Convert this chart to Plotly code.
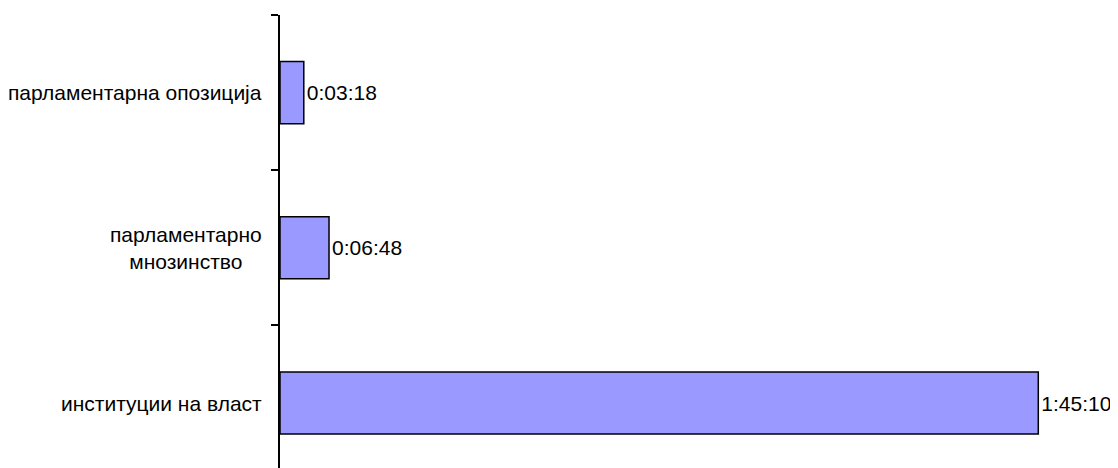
import plotly.graph_objects as go

categories = ["институции на власт", "парламентарно<br>мнозинство", "парламентарна опозиција"]
durations = ["1:45:10", "0:06:48", "0:03:18"]


def to_seconds(s):
    h, m, sec = (int(p) for p in s.split(":"))
    return h * 3600 + m * 60 + sec


seconds = [to_seconds(d) for d in durations]
ypos = list(range(len(categories)))

FONT = "Liberation Sans, Arial, sans-serif"

fig = go.Figure()
fig.add_trace(go.Bar(
    y=ypos, x=seconds, orientation="h",
    width=0.4,
    marker=dict(color="#9999FF", line=dict(color="black", width=1.5)),
    text=durations, textposition="outside", cliponaxis=False,
    textfont=dict(family=FONT, size=21, color="black"),
))

for yv, cat in zip(ypos, categories):
    fig.add_annotation(
        x=0, xref="paper", y=yv, yref="y", text=cat, showarrow=False,
        xanchor="right", yanchor="middle", align="center", xshift=-16,
        font=dict(family=FONT, size=21, color="black"),
    )

fig.update_layout(
    width=1118, height=468,
    margin=dict(l=272, r=18, t=7, b=0),
    paper_bgcolor="white", plot_bgcolor="white",
    showlegend=False,
    xaxis=dict(range=[0, 6890], visible=False),
    yaxis=dict(
        range=[-0.47, 2.5],
        tickvals=[0.5, 1.5, 2.5], showticklabels=False,
        ticks="outside", ticklen=7, tickwidth=1.5, tickcolor="black",
        showline=True, linecolor="black", linewidth=1.5,
        showgrid=False, zeroline=False,
    ),
)

fig.write_html("out.html")
